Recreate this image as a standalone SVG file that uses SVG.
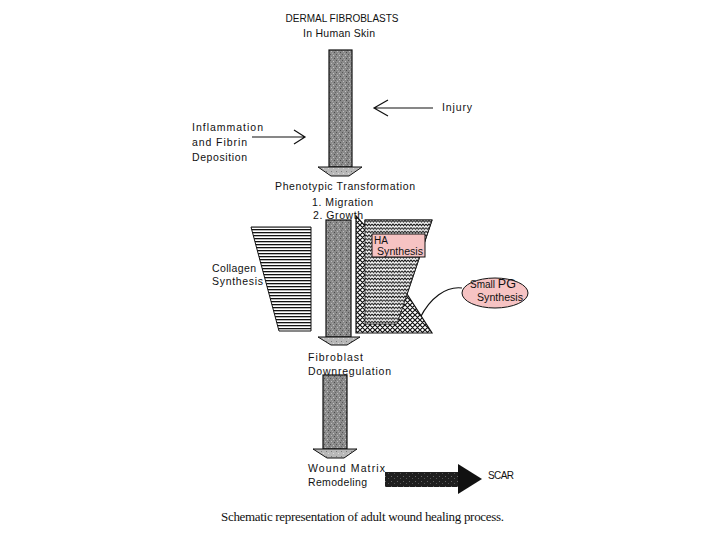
<svg xmlns="http://www.w3.org/2000/svg" width="720" height="540" viewBox="0 0 720 540">
<style>
.t{font-family:"Liberation Sans",Arial,sans-serif;font-size:10.5px;fill:#111}
.tc{font-family:"Liberation Sans",Arial,sans-serif;font-size:10px;fill:#111}
.lbl{font-family:"Liberation Sans",Arial,sans-serif;font-size:10px;fill:#111}
.cap{font-family:"Liberation Serif","Times New Roman",serif;font-size:13px;fill:#111}
.shaft{fill:url(#grain);stroke:#111;stroke-width:1.2}
.head{fill:url(#grainL);stroke:#111;stroke-width:1}
.pink{fill:#f6c3c3;stroke:#111;stroke-width:1}
.ln{fill:none;stroke:#111;stroke-width:1.2}
</style>
<defs>
<pattern id="grain" width="6" height="6" patternUnits="userSpaceOnUse">
<rect width="6" height="6" fill="#8a8a8a"/>
<rect x="0" y="0" width="1" height="1" fill="#555"/>
<rect x="3" y="1" width="1" height="1" fill="#c4c4c4"/>
<rect x="1" y="3" width="1" height="1" fill="#bdbdbd"/>
<rect x="4" y="4" width="1" height="1" fill="#4a4a4a"/>
<rect x="5" y="2" width="1" height="1" fill="#666"/>
<rect x="2" y="5" width="1" height="1" fill="#a8a8a8"/>
</pattern>
<pattern id="grainL" width="5" height="5" patternUnits="userSpaceOnUse">
<rect width="5" height="5" fill="#b8b8b8"/>
<rect x="1" y="1" width="1" height="1" fill="#7a7a7a"/>
<rect x="3" y="3" width="1" height="1" fill="#dcdcdc"/>
</pattern>
<pattern id="dark" width="6" height="5" patternUnits="userSpaceOnUse">
<rect width="6" height="5" fill="#1e1e1e"/>
<rect x="1" y="1" width="1" height="1" fill="#666"/>
<rect x="4" y="3" width="1" height="1" fill="#555"/>
</pattern>
<pattern id="hlines" width="8" height="3" patternUnits="userSpaceOnUse">
<rect width="8" height="3" fill="#fff"/>
<rect y="1" width="8" height="1.3" fill="#111"/>
</pattern>
<pattern id="wavy" width="6" height="3.6" patternUnits="userSpaceOnUse">
<rect width="6" height="3.6" fill="#fff"/>
<path d="M0,0.8 L1.5,2.6 L3,0.8 L4.5,2.6 L6,0.8" fill="none" stroke="#111" stroke-width="1.1"/>
</pattern>
<pattern id="xhatch" width="5" height="5" patternUnits="userSpaceOnUse">
<rect width="5" height="5" fill="#fff"/>
<path d="M0,0 L5,5 M5,0 L0,5 M-1,4 L1,6 M4,-1 L6,1 M-1,1 L1,-1 M4,6 L6,4" stroke="#111" stroke-width="1.2"/>
</pattern>
</defs>

<g id="connectors">
<path id="injury-arrow" class="ln" d="M433,108 L374,108 M388,100 L374,108 L388,116"/>
<path id="inflammation-arrow" class="ln" d="M252,137 L305,137 M294,130 L305,137 L294,144"/>
<path id="pg-link" class="ln" d="M462,288 C446,286 430,298 420,318"/>
</g>

<g id="title">
<text class="tc" x="342" y="22" text-anchor="middle" textLength="113" lengthAdjust="spacing">DERMAL FIBROBLASTS</text>
<text class="t" x="339" y="37" text-anchor="middle" textLength="72" lengthAdjust="spacing">In Human Skin</text>
</g>

<g id="arrow1">
<rect class="shaft" x="329" y="50" width="23" height="117"/>
<polygon class="head" points="318,167 362,167 349,176 331,176"/>
</g>

<g id="injury">
<text class="t" x="442" y="111" textLength="30" lengthAdjust="spacing">Injury</text>
</g>

<g id="inflammation">
<text class="t" x="192" y="131" textLength="71" lengthAdjust="spacing">Inflammation</text>
<text class="t" x="192" y="146" textLength="55" lengthAdjust="spacing">and Fibrin</text>
<text class="t" x="192" y="161" textLength="55" lengthAdjust="spacing">Deposition</text>
</g>

<g id="phenotypic">
<text class="t" x="275" y="190" textLength="140" lengthAdjust="spacing">Phenotypic Transformation</text>
<text class="t" x="312" y="206" textLength="61" lengthAdjust="spacing">1. Migration</text>
<text class="t" x="313" y="219" textLength="50" lengthAdjust="spacing">2. Growth</text>
</g>

<g id="collagen">
<polygon points="251,227 311,227 311,331 279,331" fill="url(#hlines)" stroke="#111" stroke-width="1"/>
<text class="t" x="212" y="272" textLength="44" lengthAdjust="spacing">Collagen</text>
<text class="t" x="212" y="285" textLength="51" lengthAdjust="spacing">Synthesis</text>
</g>

<g id="arrow2">
<rect class="shaft" x="326" y="220" width="25" height="117"/>
<polygon class="head" points="318,337 360,337 347,345 331,345"/>
</g>

<g id="matrix">
<polygon points="356,216 365,226 365,220 432,220 407,294 432,333 356,333" fill="url(#xhatch)" stroke="#111" stroke-width="1.2"/>
<polygon points="365,220 432,220 397,324 365,324" fill="url(#wavy)" stroke="#111" stroke-width="0.8"/>
</g>

<g id="ha">
<rect class="pink" x="372" y="234" width="53" height="23"/>
<text class="lbl" x="374" y="243.5">HA</text>
<text class="lbl" x="377" y="255" textLength="46" lengthAdjust="spacingAndGlyphs">Synthesis</text>
</g>

<g id="smallpg">
<ellipse class="pink" cx="495" cy="293" rx="33" ry="15"/>
<text class="lbl" x="470" y="288"><tspan font-size="10">Small </tspan><tspan font-size="12.5">PG</tspan></text>
<text class="lbl" x="477" y="300.5" textLength="46" lengthAdjust="spacingAndGlyphs">Synthesis</text>
</g>

<g id="downregulation">
<text class="t" x="308" y="361" textLength="55" lengthAdjust="spacing">Fibroblast</text>
<text class="t" x="308" y="375" textLength="83" lengthAdjust="spacing">Downregulation</text>
</g>

<g id="arrow3">
<rect class="shaft" x="323" y="375" width="24" height="74"/>
<polygon class="head" points="313,449 357,449 344,458 327,458"/>
</g>

<g id="remodeling">
<text class="t" x="308" y="472" textLength="77" lengthAdjust="spacing">Wound Matrix</text>
<text class="t" x="308" y="486" textLength="59" lengthAdjust="spacing">Remodeling</text>
</g>

<g id="scar-arrow">
<rect x="385" y="472" width="74" height="15" fill="url(#dark)"/>
<polygon points="458,464 482,479 458,494" fill="#111"/>
</g>

<g id="scar">
<text class="tc" x="488" y="479" textLength="26" lengthAdjust="spacing">SCAR</text>
</g>

<g id="caption">
<text class="cap" x="221" y="521" textLength="283" lengthAdjust="spacing">Schematic representation of adult wound healing process.</text>
</g>
</svg>
